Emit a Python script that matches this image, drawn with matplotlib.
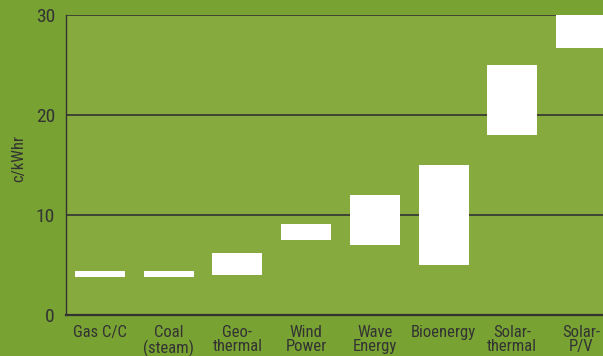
import matplotlib
matplotlib.use("Agg")
import matplotlib.pyplot as plt
from matplotlib import font_manager

categories = ["Gas C/C", "Coal\n(steam)", "Geo-\nthermal", "Wind\nPower",
              "Wave\nEnergy", "Bioenergy", "Solar-\nthermal", "Solar-\nP/V"]
low = [3.8, 3.8, 4.0, 7.5, 7.0, 5.0, 18.0, 26.7]
high = [4.4, 4.4, 6.2, 9.1, 12.0, 15.0, 25.0, 30.0]
yticks = [0, 10, 20, 30]

names = {f.name for f in font_manager.fontManager.ttflist}
fam = "DejaVu Sans"
for cand in ["Roboto Condensed", "Archivo Narrow", "Asap Condensed", "Barlow Condensed"]:
    if cand in names:
        fam = cand
        break
plt.rcParams['font.family'] = [fam, 'DejaVu Sans']

outer = "#78a232"
inner = "#86aa3e"
dark = "#333333"

fig = plt.figure(figsize=(6.03, 3.56), dpi=100, facecolor=outer)
ax = fig.add_axes([66/603, 1 - 315/356, (603-66)/603, (315-14.7)/356])
ax.set_facecolor(inner)

x = list(range(len(categories)))
heights = [h - l for l, h in zip(low, high)]
ax.bar(x, heights, bottom=low, width=0.728, color="white", zorder=3, clip_on=True)

ax.set_xlim(-0.495, 7.32)
ax.set_ylim(0, 30)
ax.set_yticks(yticks)
ax.set_yticklabels([str(t) for t in yticks], fontsize=14, color=dark)
ax.set_xticks(x)
ax.set_xticklabels(categories, fontsize=12, color=dark, linespacing=0.98, va="top")
ax.tick_params(axis="x", length=0, pad=7)
ax.tick_params(axis="y", length=0, pad=8)
for y in [10, 20, 30]:
    ax.axhline(y, color=dark, lw=1.2, zorder=2)
for s in ["top", "right"]:
    ax.spines[s].set_visible(False)
ax.spines["left"].set_color(dark)
ax.spines["bottom"].set_color(dark)
ax.spines["left"].set_linewidth(1.0)
ax.spines["bottom"].set_linewidth(1.6)
ax.set_ylabel("c/kWhr", fontsize=12, color=dark)
ax.yaxis.set_label_coords(-40/537, 0.52)

fig.savefig("out.png", dpi=100, facecolor=outer)
